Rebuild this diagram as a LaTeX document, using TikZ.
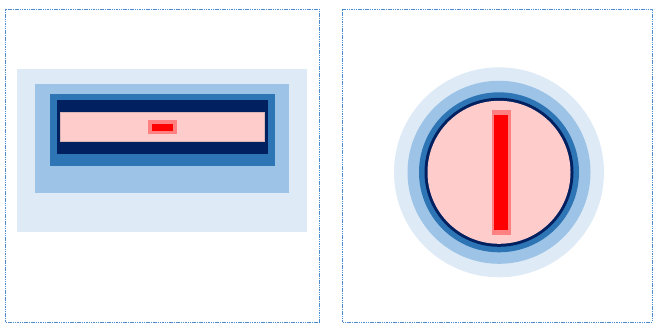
\documentclass[tikz,border=0pt]{standalone}
\usetikzlibrary{}
\definecolor{bA}{HTML}{DEEBF7}
\definecolor{bB}{HTML}{9DC3E6}
\definecolor{bC}{HTML}{2E75B6}
\definecolor{bD}{HTML}{002060}
\definecolor{pk}{HTML}{FFCCCC}
\definecolor{lr}{HTML}{FF8080}
\definecolor{rd}{HTML}{FF0000}
\definecolor{frame}{HTML}{4A8CCF}
\tikzset{
  panel/.style={draw=frame, line width=0.7pt, dash pattern=on 1.5pt off 0.8pt},
}
\begin{document}
\begin{tikzpicture}[x=1pt,y=-1pt]
\useasboundingbox (0,0) rectangle (653,323);
% left panel
\draw[panel] (5.5,9.5) rectangle (319.5,322);
\fill[bA] (17.3,69.3) rectangle (307.3,232);
\fill[bB] (35.3,84.3) rectangle (289.3,193);
\fill[bC] (50,94) rectangle (275,166);
\fill[bD] (57,99.7) rectangle (267.7,154.3);
\filldraw[fill=pk, draw=pk!70!gray, line width=0.6pt] (60.7,112.7) rectangle (264,141.7);
\fill[lr] (148,120) rectangle (176.7,134.3);
\fill[rd] (151.7,123.7) rectangle (173.3,130.7);
% right panel
\draw[panel] (342,9.5) -- (652.5,9.5) -- (652.5,322) -- (342,322) -- cycle;
\fill[bA] (499,172.3) circle[radius=105];
\fill[bB] (499,172.3) circle[radius=91.5];
\fill[bC] (499,172.3) circle[radius=80];
\fill[bD] (499,172.3) circle[radius=74.5];
\fill[pk] (499,172.3) circle[radius=71.5];
\fill[lr] (492,109.7) rectangle (510.7,235.3);
\fill[rd] (493.7,114.7) rectangle (508.3,230.3);
\end{tikzpicture}
\end{document}
